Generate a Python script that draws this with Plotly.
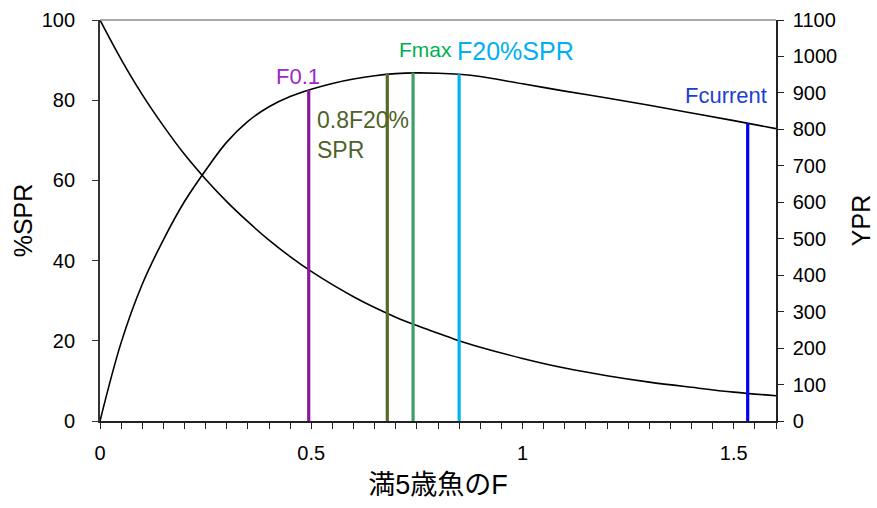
import plotly.graph_objects as go

# Fishing mortality grid (F for age-5 fish)
f_grid = [0.0, 0.05, 0.1, 0.15, 0.2, 0.25, 0.3, 0.35, 0.4, 0.45, 0.5, 0.55, 0.6,
          0.65, 0.7, 0.75, 0.8, 0.85, 0.9, 1.0, 1.1, 1.2, 1.3, 1.4, 1.5, 1.6]

# Spawning potential ratio (%SPR, left axis)
spr_pct = [100.0, 90.2, 81.4, 73.6, 66.5, 60.3, 54.7, 49.7, 45.1, 41.0, 37.3, 34.0, 31.0,
           28.3, 25.9, 23.8, 21.9, 20.0, 18.4, 15.6, 13.2, 11.3, 9.7, 8.4, 7.2, 6.3]

# Yield per recruit (YPR, right axis)
ypr = [0, 215, 375, 497, 602, 688, 765, 822, 862, 890, 910, 926, 938,
       947, 953, 955, 954, 951, 945, 925, 905, 886, 866, 845, 824, 802]

# Reference points: name, F, YPR at that F, line colour, label colour
ref_names = ["F0.1", "0.8F20%<br>SPR", "Fmax", "F20%SPR", "Fcurrent"]
ref_f = [0.494, 0.680, 0.741, 0.850, 1.533]
ref_ypr = [908, 952, 955, 951, 817]
ref_line_colors = ["#8a1a9b", "#566a2e", "#3f9f6c", "#00b4f0", "#0000f5"]
ref_text_colors = ["#9b28c8", "#4f6228", "#00b050", "#00b0f0", "#1d3fd4"]

FONT = "Liberation Sans, Arial, Noto Sans CJK JP, sans-serif"

fig = go.Figure()

fig.add_trace(go.Scatter(x=f_grid, y=spr_pct, mode="lines", yaxis="y",
                         line=dict(color="black", width=1.6, shape="spline"),
                         showlegend=False, hoverinfo="skip"))
fig.add_trace(go.Scatter(x=f_grid, y=ypr, mode="lines", yaxis="y2",
                         line=dict(color="black", width=1.6, shape="spline"),
                         showlegend=False, hoverinfo="skip"))

for f, v, c in zip(ref_f, ref_ypr, ref_line_colors):
    fig.add_trace(go.Scatter(x=[f, f], y=[0, v], mode="lines", yaxis="y2",
                             line=dict(color=c, width=3.2),
                             showlegend=False, hoverinfo="skip"))

# Label placement and size, relative to each line's top
label_style = [
    dict(xanchor="center", yanchor="bottom", xshift=-11, yshift=-1, align="center", size=22),
    dict(xanchor="left", yanchor="top", xshift=-72, yshift=-31, align="left", size=23),
    dict(xanchor="center", yanchor="bottom", xshift=12, yshift=10, align="center", size=21),
    dict(xanchor="left", yanchor="bottom", xshift=-4, yshift=7, align="left", size=25),
    dict(xanchor="center", yanchor="bottom", xshift=-22, yshift=13, align="center", size=22),
]
for name, f, v, tc, st in zip(ref_names, ref_f, ref_ypr, ref_text_colors, label_style):
    st = dict(st)
    size = st.pop("size")
    fig.add_annotation(x=f, y=v, xref="x", yref="y2", text=name, showarrow=False,
                       font=dict(family=FONT, size=size, color=tc), **st)

# Thin grey frame line along the top of the plot area
fig.add_shape(type="line", xref="paper", yref="paper", x0=0, x1=1, y0=1, y1=1,
              line=dict(color="#8c8c8c", width=1.5))

fig.update_layout(
    width=877, height=508,
    margin=dict(l=100, r=101, t=20, b=87, autoexpand=False),
    paper_bgcolor="white", plot_bgcolor="white",
    font=dict(family=FONT, size=20, color="black"),
    xaxis=dict(range=[0, 1.6], dtick=0.5, tick0=0, showgrid=False, zeroline=False,
               automargin=False,
               showline=True, linecolor="#222", linewidth=1.5,
               ticks="outside", ticklen=6, tickwidth=1.2, tickcolor="#222",
               ticklabelstandoff=7,
               minor=dict(dtick=0.05, ticks="outside", ticklen=6, tickwidth=1.2,
                          tickcolor="#222", showgrid=False),
               title=dict(text="満5歳魚のF", font=dict(size=27), standoff=12)),
    yaxis=dict(range=[0, 100], dtick=20, showgrid=False, zeroline=False,
               automargin=False,
               showline=True, linecolor="#333", linewidth=1.8,
               ticks="outside", ticklen=6, tickwidth=1.2, tickcolor="#333",
               ticklabelstandoff=13,
               title=dict(text="%SPR", font=dict(size=25), standoff=2)),
    yaxis2=dict(range=[0, 1100], dtick=100, overlaying="y", side="right",
                showgrid=False, zeroline=False, automargin=False,
                showline=True, linecolor="#222", linewidth=1.5,
                ticks="outside", ticklen=6, tickwidth=1.2, tickcolor="#222",
                ticklabelstandoff=5,
                title=dict(text="YPR", font=dict(size=25), standoff=16)),
)

fig.write_html("out.html")
